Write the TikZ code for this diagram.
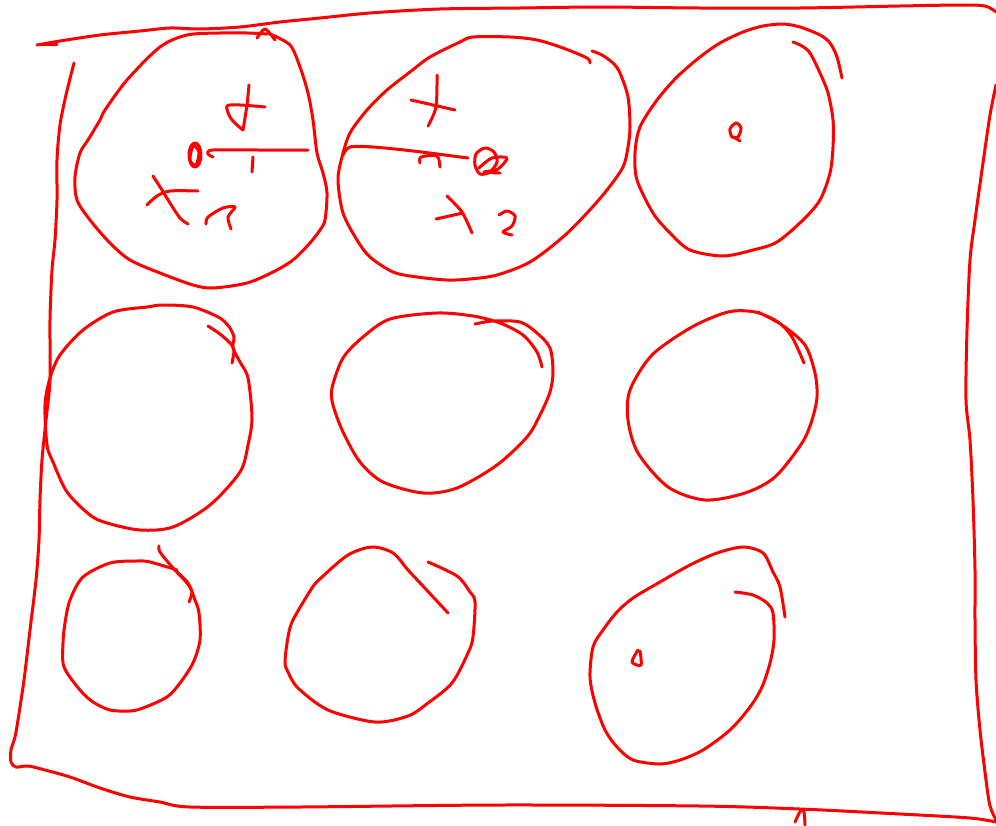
\documentclass[tikz,border=0pt]{standalone}
\begin{document}
\begin{tikzpicture}[x=1pt,y=-1pt,
  pen/.style={draw={rgb,255:red,255;green,0;blue,0},line width=3pt,line cap=round,line join=round}]
\useasboundingbox (0,0) rectangle (996,825);
% ---- frame ----
\draw[pen] plot[smooth] coordinates {(37,45) (60,41) (100,35) (140,31) (170,28) (200,29) (240,27) (280,22) (320,18) (370,13) (440,9) (520,8) (600,7) (700,8) (800,8) (900,6) (960,5) (985,6) (996,12)};
\draw[pen] (40,44) -- (57,44);
\draw[pen] plot[smooth] coordinates {(996,85) (990,115) (982,170) (975,220) (970,260) (967,330) (966,400) (970,440) (973,500) (975,570) (975,620) (976,680) (980,730) (986,780) (990,806) (996,820)};
\draw[pen] plot[smooth] coordinates {(74,63) (66,95) (60,125) (57,160) (57,200) (55,240) (52,270) (50,320) (50,380) (46,420) (42,460) (40,500) (39,540) (36,580) (30,630) (24,680) (18,720) (15,737) (11,750) (11,762) (16,767) (28,766) (45,770) (70,777) (100,788) (130,797) (160,802) (190,807) (300,807) (500,805) (700,806) (800,809) (900,814) (970,818) (996,822)};
\draw[pen] plot[smooth] coordinates {(795,822) (801,810) (804,812) (805,825)};
% ---- circle 1 ----
\draw[pen] plot[smooth] coordinates {(270,34) (290,45) (300,67) (308,93) (313,120) (317,153) (323,173) (327,193) (325,220) (320,230) (310,243) (293,260) (273,272) (247,283) (213,288) (193,285) (160,273) (130,260) (110,243) (90,220) (77,200) (75,177) (80,153) (88,140) (100,120) (105,110) (127,80) (160,47) (187,35) (220,33) (247,33) (268,34)};
\draw[pen] plot[smooth] coordinates {(257,38) (265,29) (275,40)};
\draw[pen] plot[smooth] coordinates {(265,107) (240,105) (227,106) (230,117) (237,125) (243,130)};
\draw[pen] plot[smooth] coordinates {(249,85) (247,105) (243,130)};
\draw[pen] plot[smooth] coordinates {(308,150) (260,150) (213,150) (208,154) (213,157)};
\draw[pen] (253,157) -- (252,172);
\draw[pen] (195,155) ellipse [x radius=6, y radius=12];
\draw[pen] plot[smooth cycle] coordinates {(193,146) (199,152) (196,165) (190,160)};
\draw[pen] plot[smooth] coordinates {(153,176) (162,190) (170,203) (180,218) (188,224)};
\draw[pen] plot[smooth] coordinates {(147,205) (157,196) (170,191) (198,191)};
\draw[pen] plot[smooth] coordinates {(206,224) (208,217) (223,208) (235,207) (228,217) (231,229)};
% ---- circle 2 ----
\draw[pen] plot[smooth] coordinates {(590,63) (587,58) (563,48) (537,40) (510,37) (473,37) (460,42) (430,57) (410,72) (387,90) (367,110) (350,133) (342,157) (338,180) (343,213) (357,240) (370,257) (393,272) (417,277) (447,280) (470,279) (497,275) (530,262) (563,237) (587,213) (607,190) (623,167) (628,147) (630,127) (628,97) (620,73) (613,63) (602,55) (592,51)};
\draw[pen] plot[smooth] coordinates {(343,155) (350,147) (373,147) (413,151) (468,158)};
\draw[pen] plot[smooth] coordinates {(420,163) (421,157) (437,156) (440,167)};
\draw[pen] plot[smooth cycle] coordinates {(485,148) (494,152) (497,162) (490,172) (480,174) (475,165) (476,154)};
\draw[pen] plot[smooth] coordinates {(479,168) (492,158) (507,158) (498,169) (484,172) (500,173)};
\draw[pen] plot[smooth] coordinates {(437,75) (436,107) (428,126)};
\draw[pen] (411,100) -- (455,110);
\draw[pen] plot[smooth] coordinates {(447,196) (462,212) (472,233)};
\draw[pen] (436,219) -- (463,213);
\draw[pen] plot[smooth] coordinates {(499,215) (507,211) (515,216) (512,226) (503,232) (512,235)};
% ---- circle 3 ----
\draw[pen] plot[smooth] coordinates {(793,42) (802,46) (810,53) (820,73) (828,93) (833,120) (833,147) (830,173) (820,200) (803,220) (777,242) (753,250) (723,256) (690,250) (670,233) (653,213) (637,180) (635,153) (640,127) (657,100) (677,77) (700,57) (720,43) (743,32) (763,26) (783,24) (800,27) (820,35) (830,43) (837,57) (842,78)};
\draw[pen] plot[smooth cycle] coordinates {(736,123) (741,128) (738,137) (732,137) (730,129)};
\draw[pen] (734,137) -- (740,141);
% ---- circle 4 ----
\draw[pen] plot[smooth] coordinates {(230,328) (220,318) (193,307) (163,305) (147,307) (113,312) (83,330) (60,355) (50,378) (45,405) (47,445) (53,462) (67,492) (90,515) (107,523) (140,530) (173,527) (210,505) (240,472) (248,445) (252,418) (248,378) (240,362) (233,348) (234,337) (230,328)};
\draw[pen] plot[smooth] coordinates {(208,326) (220,334) (230,343) (234,350) (232,363)};
% ---- circle 5 ----
\draw[pen] plot[smooth] coordinates {(475,324) (493,321) (520,322) (537,333) (550,348) (553,372) (550,392) (540,415) (527,437) (497,465) (457,488) (423,493) (383,482) (360,462) (343,432) (333,405) (332,388) (343,358) (363,337) (390,319) (437,313) (473,316) (500,323) (523,335) (537,352) (542,367)};
% ---- circle 6 ----
\draw[pen] plot[smooth] coordinates {(758,312) (782,325) (805,345) (815,373) (817,397) (812,420) (802,443) (775,477) (745,493) (705,500) (668,487) (638,453) (628,420) (630,390) (652,355) (692,327) (728,312) (755,312) (778,322) (792,337) (804,363)};
% ---- circle 7 ----
\draw[pen] plot[smooth] coordinates {(177,570) (150,562) (137,561) (110,563) (83,577) (70,600) (65,623) (63,643) (64,667) (80,690) (93,702) (110,710) (130,711) (143,708) (167,697) (180,683) (193,663) (200,640) (199,613) (195,600) (188,583) (177,572)};
\draw[pen] plot[smooth] coordinates {(159,546) (160,552) (173,568) (187,583) (192,592) (189,602)};
% ---- circle 8 ----
\draw[pen] plot[smooth] coordinates {(448,613) (422,585) (408,570) (393,553) (372,547) (348,555) (322,577) (312,588) (293,620) (288,637) (285,662) (288,672) (298,688) (328,710) (375,722) (408,716) (428,703) (452,683) (468,653) (473,637) (475,602) (470,592) (457,576) (428,562)};
% ---- circle 9 ----
\draw[pen] plot[smooth] coordinates {(785,617) (780,587) (773,572) (763,553) (743,547) (717,553) (690,565) (660,582) (633,598) (617,612) (603,630) (593,647) (590,677) (595,703) (605,730) (617,747) (633,760) (660,764) (680,760) (703,750) (730,730) (750,707) (762,687) (770,663) (774,640) (773,613) (767,603) (753,595) (735,592)};
\draw[pen] plot[smooth] coordinates {(638,650) (632,662) (641,665) (640,651)};
\end{tikzpicture}
\end{document}
